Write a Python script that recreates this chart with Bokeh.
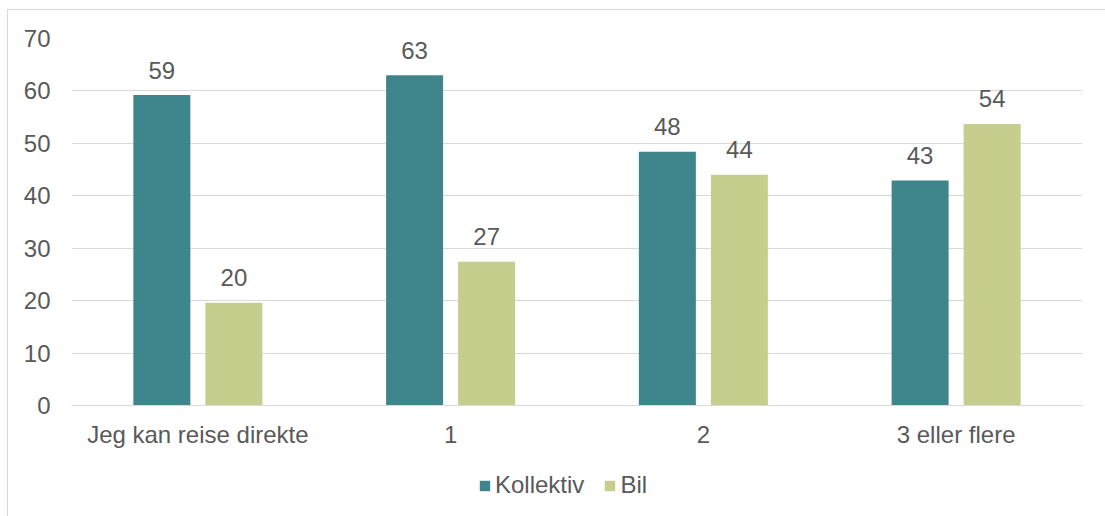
from bokeh.plotting import figure
from bokeh.layouts import column
from bokeh.models import ColumnDataSource, FactorRange, Range1d, Legend, LegendItem, FixedTicker
from bokeh.transform import dodge
from bokeh.core.properties import value
from bokeh.embed import file_html
from bokeh.resources import INLINE

categories = ["Jeg kan reise direkte", "1", "2", "3 eller flere"]
kollektiv = [59.2, 63.0, 48.4, 42.9]
bil = [19.6, 27.4, 44.0, 53.7]
series_names = ["Kollektiv", "Bil"]
y_ticks = [0, 10, 20, 30, 40, 50, 60, 70]

TEAL = "#3F868C"
GREEN = "#C7CD8D"
TXT = "#595959"
GRID = "#D9D9D9"
FONT = "Liberation Sans"
FS = "24px"

src = ColumnDataSource(dict(
    cat=categories,
    k=kollektiv,
    b=bil,
    kl=[str(round(v)) for v in kollektiv],
    bl=[str(round(v)) for v in bil],
))

xr = FactorRange(*categories, range_padding=0)

p = figure(
    x_range=xr,
    y_range=Range1d(0, 70),
    width=1097, height=450,
    output_backend="svg", toolbar_location=None,
    min_border_left=63, min_border_right=23,
    min_border_top=28, min_border_bottom=55,
)
p.outline_line_color = None

p.vbar(x=dodge("cat", -0.1425, range=xr), top="k", width=0.2256,
       source=src, fill_color=TEAL, line_color=None)
p.vbar(x=dodge("cat", 0.1425, range=xr), top="b", width=0.2256,
       source=src, fill_color=GREEN, line_color=None)

p.text(x=dodge("cat", -0.1425, range=xr), y="k", text="kl", source=src,
       text_align="center", text_baseline="alphabetic", y_offset=-25,
       text_font=value(FONT), text_font_size=FS, text_color=TXT)
p.text(x=dodge("cat", 0.1425, range=xr), y="b", text="bl", source=src,
       text_align="center", text_baseline="alphabetic", y_offset=-25,
       text_font=value(FONT), text_font_size=FS, text_color=TXT)

p.xgrid.grid_line_color = None
p.ygrid.grid_line_color = GRID
p.ygrid.grid_line_width = 1

p.yaxis.ticker = FixedTicker(ticks=y_ticks)
p.yaxis.axis_line_color = None
p.yaxis.major_tick_line_color = None
p.yaxis.minor_tick_line_color = None
p.yaxis.major_label_standoff = 15
p.yaxis.major_label_text_font = FONT
p.yaxis.major_label_text_font_size = FS
p.yaxis.major_label_text_color = TXT

p.xaxis.axis_line_color = GRID
p.xaxis.major_tick_line_color = None
p.xaxis.minor_tick_line_color = None
p.xaxis.major_label_standoff = 9
p.xaxis.major_label_text_font = FONT
p.xaxis.major_label_text_font_size = FS
p.xaxis.major_label_text_color = TXT

# legend strip: same series, drawn against a y range that keeps the bars out of view
lf = figure(width=1097, height=56, output_backend="svg", toolbar_location=None,
            x_range=xr, y_range=Range1d(1000, 1001),
            min_border_left=0, min_border_right=0, min_border_top=0, min_border_bottom=0)
lf.axis.visible = False
lf.grid.visible = False
lf.outline_line_color = None
e1 = lf.vbar(x=dodge("cat", -0.1425, range=xr), top="k", width=0.2256,
             source=src, fill_color=TEAL, line_color=None)
e2 = lf.vbar(x=dodge("cat", 0.1425, range=xr), top="b", width=0.2256,
             source=src, fill_color=GREEN, line_color=None)
legend = Legend(items=[LegendItem(label=series_names[0], renderers=[e1]),
                       LegendItem(label=series_names[1], renderers=[e2])],
                orientation="horizontal", location=(407, 17),
                label_text_font=FONT, label_text_font_size=FS, label_text_color=TXT,
                glyph_width=13, glyph_height=13, label_standoff=4, spacing=19,
                border_line_color=None, background_fill_alpha=0, padding=0, margin=0)
lf.add_layout(legend, "center")

layout = column(p, lf, spacing=0)
layout.styles = {"border-top": "1px solid #D9D9D9", "border-left": "1px solid #D9D9D9",
                 "margin-left": "7px", "margin-top": "9px"}

open("out.html", "w").write(file_html(layout, INLINE))
